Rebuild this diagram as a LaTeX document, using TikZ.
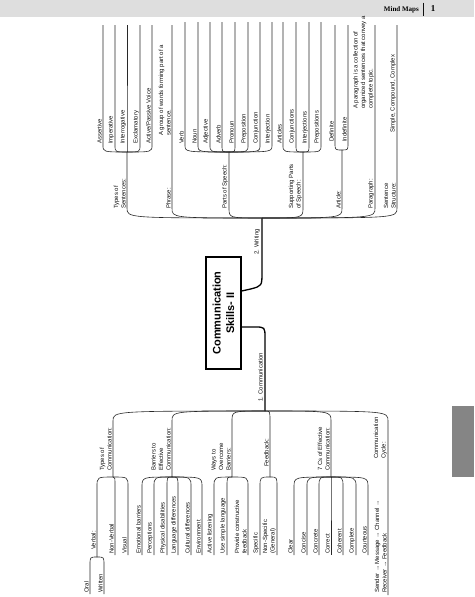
\documentclass[tikz,border=0pt]{standalone}
\usepackage{fontspec}
\setmainfont{Liberation Sans}
\newfontfamily\headfont{Liberation Serif}
\usepackage{tikz}
\definecolor{mapink}{RGB}{15,15,15}
\definecolor{twiggray}{RGB}{40,40,40}
\definecolor{bandgray}{RGB}{222,222,222}
\definecolor{tabgray}{RGB}{133,133,133}
\tikzset{
  leaf/.style={rotate=90, anchor=south west, inner sep=1pt, align=left,
    font=\fontsize{6}{7.5}\selectfont, text=mapink},
  twig/.style={draw=twiggray, line width=0.6pt},
  limb/.style={draw=black, line width=1.3pt},
  hub/.style={draw=black, line width=1.3pt, fill=white, rotate=90, align=center,
    font=\bfseries\fontsize{11}{13.5}\selectfont, minimum width=112pt,
    minimum height=35pt, inner sep=0pt}
}

\begin{document}
\begin{tikzpicture}[x=1pt, y=-1pt]
  \useasboundingbox (0,0) rectangle (474,597);

  % ── Page header and side tab ─────────────────────────────────────────────
  \fill[bandgray] (0,0) rectangle (474,17);
  \node[font=\headfont\bfseries\fontsize{7}{8}\selectfont, anchor=east, inner sep=0pt] (hdr) at (419,9.5) {Mind Maps};
  \draw[line width=0.8pt, color=mapink] (423,2.5) -- (423,16);
  \node[font=\headfont\bfseries\fontsize{9}{10}\selectfont, inner sep=0pt] (pgno) at (433,9) {1};
  \fill[tabgray] (452,406) rectangle (474,477);

  % ── Central topic ────────────────────────────────────────────────────────
  \node[hub] (core) at (223.5,313) {Communication\\Skills- II};
  \coordinate (wj) at (262,218);
  \coordinate (cj) at (265,411);
  \draw[limb] (core.south) ++(0,-22) -- ++(9,-2) .. controls (262,286) .. (262,272) -- (wj);
  \draw[limb] (core.south) ++(0,14) -- ++(13,0) .. controls (265,327) .. (265,338) -- (cj);
  \node[leaf] (wlab) at (261,256) {2. Writing};
  \node[leaf] (clab) at (264,403) {1. Communication};

  % ── 2. Writing: main branches ────────────────────────────────────────────
  \foreach \x/\e/\t [count=\i] in {127/152/{Types of\\Sentences:}, 172/25/{Phrase:},
      229/152/{Parts of Speech:}, 303/152/{Supporting Parts\\of Speech:}, 342/150/{Article:},
      375/25/{Paragraph:}, 397/25/{Sentence\\Structure:}} {
    \coordinate (wb\i) at (\x,\e);
    \node[leaf] (wl\i) at (\x,210) {\t};
    \draw[twig] (wj) .. controls (\x,218) .. (\x,208) -- (wb\i);
  }
  \node[leaf] (phrase) at (172,137) {A group of words forming part of a\\sentence.};
  \node[leaf] (para) at (375,110) {A paragraph is a collection of\\organized sentences that convey a\\complete topic.};
  \node[leaf] (struct) at (397,134) {Simple, Compound, Complex};

  % Types of sentences
  \foreach \x/\t [count=\i] in {103/Assertive, 115/Imperative, 127/Interrogative,
      140/Exclamatory, 152/{Active/Passive Voice}} {
    \coordinate (ts\i) at (\x,25);
    \node[leaf] (tsn\i) at (\x,145) {\t};
    \draw[twig] (wb1) .. controls (\x,152) .. (tsn\i.south west) -- (ts\i);
  }
  % Parts of speech
  \foreach \x/\t [count=\i] in {185/Verb, 198/Noun, 210/Adjective, 222/Adverb,
      235/Pronoun, 248/Preposition, 260/Conjunction, 272/Interjection} {
    \coordinate (ps\i) at (\x,22);
    \node[leaf] (psn\i) at (\x,145) {\t};
    \draw[twig] (wb3) .. controls (\x,152) .. (psn\i.south west) -- (ps\i);
  }
  % Supporting parts of speech
  \foreach \x/\t [count=\i] in {283/Articles, 296/Conjunctions, 309/Interjections, 321/Prepositions} {
    \coordinate (sp\i) at (\x,22);
    \node[leaf] (spn\i) at (\x,145) {\t};
    \draw[twig] (wb4) .. controls (\x,152) .. (spn\i.south west) -- (sp\i);
  }
  % Articles
  \foreach \x/\t [count=\i] in {335/Definite, 348/Indefinite} {
    \coordinate (ar\i) at (\x,25);
    \node[leaf] (arn\i) at (\x,143) {\t};
    \draw[twig] (wb5) .. controls (\x,150) .. (arn\i.south west) -- (ar\i);
  }

  % ── 1. Communication: main branches ──────────────────────────────────────
  \foreach \x/\e/\s/\t [count=\i] in {113/477/472/{Types of\\Communication:},
      172/477/472/{Barriers to\\Effective\\Communication:}, 232/477/472/{Ways to\\Overcome\\Barriers:},
      270/477/468/{Feedback:}, 331/477/472/{7 Cs of Effective\\Communication:},
      388/595/460/{Communication\\Cycle:}} {
    \coordinate (cb\i) at (\x,\e);
    \node[leaf] (cl\i) at (\x,\s) {\t};
    \draw[twig] (cj) .. controls (\x,411) .. (\x,421) -- (cb\i);
  }
  \node[leaf] (cycle) at (388,594) {Sender → Message → Channel →\\Receiver → Feedback};

  % Types of communication
  \coordinate (vf) at (97,557);
  \node[leaf] (verbal) at (97,551) {Verbal:};
  \draw[twig] (cb1) .. controls (97,477) .. (97,487) -- (vf);
  \foreach \x/\t [count=\i] in {115/Non-Verbal, 128/Visual} {
    \node[leaf] (tc\i) at (\x,555) {\t};
    \draw[twig] (cb1) .. controls (\x,477) .. (\x,487) -- (tc\i.south west);
  }
  \foreach \x/\t [count=\i] in {90/Oral, 104/Written} {
    \node[leaf] (vb\i) at (\x,594) {\t};
    \draw[twig] (vf) .. controls (\x,557) .. (\x,565) -- (vb\i.south west);
  }
  % Barriers
  \foreach \x/\t [count=\i] in {142/Emotional barriers, 154/Perceptions, 167/Physical disabilities,
      178/Language differences, 191/Cultural differences, 202/Environment} {
    \node[leaf] (br\i) at (\x,555) {\t};
    \draw[twig] (cb2) .. controls (\x,477) .. (\x,487) -- (br\i.south west);
  }
  % Ways to overcome
  \foreach \x/\t [count=\i] in {214/Active listening, 227/Use simple language,
      248/{Provide constructive\\feedback}} {
    \node[leaf] (wo\i) at (\x,555) {\t};
    \draw[twig] (cb3) .. controls (\x,477) .. (\x,487) -- (wo\i.south west);
  }
  % Feedback
  \foreach \x/\t [count=\i] in {260/Specific, 277/{Non-Specific\\(General)}} {
    \node[leaf] (fb\i) at (\x,555) {\t};
    \draw[twig] (cb4) .. controls (\x,477) .. (\x,487) -- (fb\i.south west);
  }
  % 7 Cs
  \foreach \x/\t [count=\i] in {294/Clear, 307/Concise, 319/Concrete, 331/Correct,
      343/Coherent, 356/Complete, 368/Courteous} {
    \node[leaf] (sc\i) at (\x,555) {\t};
    \draw[twig] (cb5) .. controls (\x,477) .. (\x,487) -- (sc\i.south west);
  }
\end{tikzpicture}
\end{document}
